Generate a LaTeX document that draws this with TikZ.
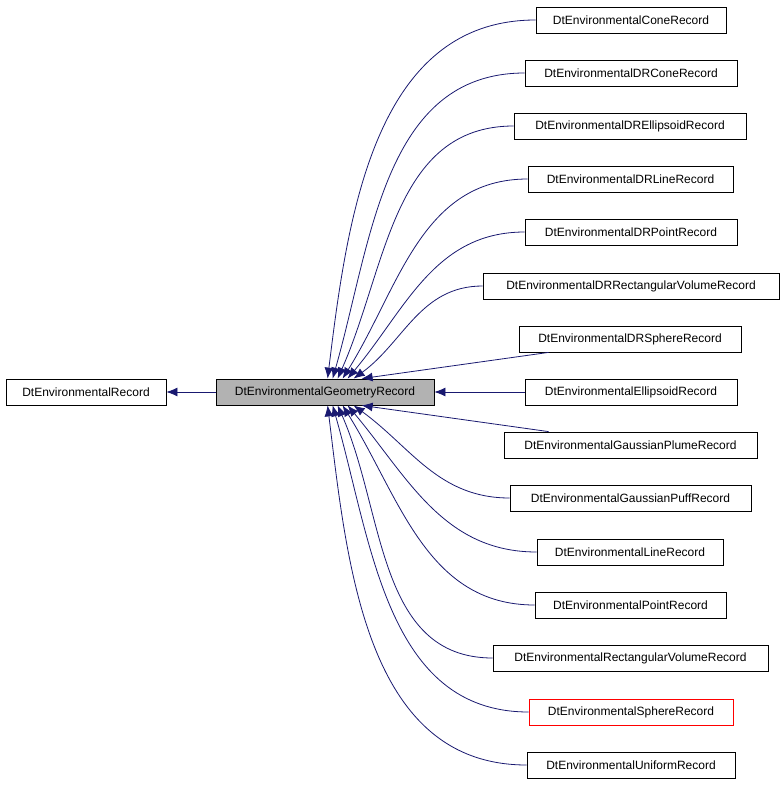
\documentclass[tikz,border=0pt]{standalone}
\usepackage{fontspec}
\setmainfont{Liberation Sans}
\usetikzlibrary{arrows.meta,calc}
\begin{document}
\begin{tikzpicture}[x=1pt,y=-1pt,
  box/.style={draw=black,line width=0.8pt,minimum height=26pt,inner sep=0pt,font=\fontsize{12}{14}\selectfont,anchor=center},
  edge/.style={draw=navy,line width=0.8pt,{Latex[length=11pt,width=9pt]}-},
  ]
\definecolor{navy}{HTML}{191970}
\useasboundingbox (0,0) rectangle (784,787);
\node[box,minimum width=160pt] (R) at (86,392) {DtEnvironmentalRecord};
\node[box,minimum width=218pt,fill=black!30] (G) at (325,392) {DtEnvironmentalGeometryRecord};
\foreach \n/\xa/\xb/\y/\t in {
 c1/536/726/20/DtEnvironmentalConeRecord,
 c2/525/737/73/DtEnvironmentalDRConeRecord,
 c3/514/746/126/DtEnvironmentalDREllipsoidRecord,
 c4/528/733/179/DtEnvironmentalDRLineRecord,
 c5/525/737/232/DtEnvironmentalDRPointRecord,
 c6/483/779/286/DtEnvironmentalDRRectangularVolumeRecord,
 c7/519/741/339/DtEnvironmentalDRSphereRecord,
 c8/525/737/392/DtEnvironmentalEllipsoidRecord,
 c9/504/757/445/DtEnvironmentalGaussianPlumeRecord,
 c10/510/751/498/DtEnvironmentalGaussianPuffRecord,
 c11/537/723/552/DtEnvironmentalLineRecord,
 c12/535/726/605/DtEnvironmentalPointRecord,
 c13/493/768/658/DtEnvironmentalRectangularVolumeRecord,
 c15/527/735/765/DtEnvironmentalUniformRecord}
 {\node[box,minimum width={\xb-\xa}] (\n) at ({(\xa+\xb)/2},\y) {\t};}
\node[box,draw=red,minimum width=204pt] (c14) at (631,712) {DtEnvironmentalSphereRecord};
\draw[edge] (R.east) -- (G.west);
\draw[edge] (G.east) -- (c8.west);
\foreach \n/\dx/\a in {c1/112/83,c2/117/74,c3/122/66,c4/127/58,c5/132/50,c6/138/36}
 {\draw[edge] ([xshift=\dx]G.north west) to[out=\a,in=180] (\n.west);}
\foreach \n/\dx/\a in {c15/112/-83,c14/117/-74,c13/122/-66,c12/127/-58,c11/132/-50,c10/138/-36}
 {\draw[edge] ([xshift=\dx]G.south west) to[out=\a,in=180] (\n.west);}
\draw[edge] ([xshift=146]G.north west) -- ([xshift=30]c7.south west);
\draw[edge] ([xshift=146]G.south west) -- ([xshift=45]c9.north west);
\end{tikzpicture}
\end{document}
